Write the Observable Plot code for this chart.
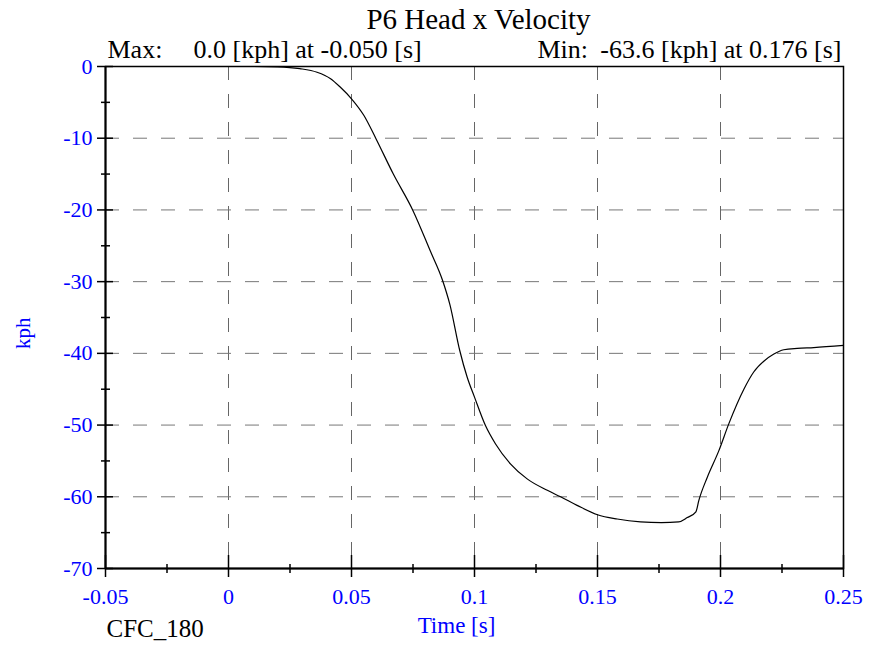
<!DOCTYPE html>
<html>
<head>
<meta charset="utf-8">
<script src="https://cdn.jsdelivr.net/npm/d3@7"></script>
<script src="https://cdn.jsdelivr.net/npm/@observablehq/plot@0.6"></script>
<style>
  html, body { margin: 0; padding: 0; background: white; }
  #chart svg, #chart svg text { font-family: "Liberation Serif", "Times New Roman", serif !important; }
</style>
</head>
<body>
<div id="chart"></div>
<script>
const titleText = "P6 Head x Velocity";
const maxLabel = "Max:";
const maxValue = "0.0 [kph] at -0.050 [s]";
const minLabel = "Min:";
const minValue = "-63.6 [kph] at 0.176 [s]";
const xLabel = "Time [s]";
const yLabel = "kph";
const filterLabel = "CFC_180";

const xTicks = [-0.05, 0, 0.05, 0.1, 0.15, 0.2, 0.25];
const xMinor = [-0.025, 0.025, 0.075, 0.125, 0.175, 0.225];
const xGrid = [0, 0.05, 0.1, 0.15, 0.2];
const yTicks = [0, -10, -20, -30, -40, -50, -60, -70];
const yMinor = [-5, -15, -25, -35, -45, -55, -65];
const yGrid = [-10, -20, -30, -40, -50, -60];

const time = [-0.05, 0.0, 0.01, 0.02, 0.029, 0.036, 0.0415, 0.0455, 0.05, 0.055, 0.060, 0.067, 0.075, 0.082, 0.087, 0.090, 0.094, 0.097, 0.100, 0.1045, 0.1085, 0.1146, 0.1214, 0.1296, 0.135, 0.1417, 0.150, 0.158, 0.1675, 0.176, 0.183, 0.1865, 0.190, 0.1912, 0.1946, 0.1993, 0.2034, 0.2095, 0.2135, 0.2176, 0.2217, 0.2257, 0.2312, 0.2379, 0.25];
const velocity = [0, 0, 0, -0.05, -0.3, -0.8, -1.7, -2.9, -4.5, -6.8, -10.1, -15, -20.1, -25.7, -29.8, -33.2, -39.6, -43.3, -46.1, -50.1, -52.6, -55.4, -57.5, -59.1, -60.0, -61.2, -62.5, -63.1, -63.5, -63.6, -63.5, -62.9, -62.1, -60.5, -57.3, -53.6, -49.8, -45.0, -42.6, -41.1, -40.1, -39.5, -39.3, -39.2, -38.9];

const data = time.map((t, i) => ({t, v: velocity[i]}));
const blue = "#0000ff";
const serif = "Liberation Serif";
const fmt = d => String(d);

const chart = Plot.plot({
  width: 882,
  height: 647,
  marginLeft: 105,
  marginRight: 39,
  marginTop: 66,
  marginBottom: 79,
  x: {domain: [-0.05, 0.25], axis: null},
  y: {domain: [-70, 0], axis: null},
  style: {fontFamily: serif, background: "white", color: "black"},
  marks: [
    Plot.gridX(xGrid, {stroke: "#666", strokeOpacity: 1, strokeDasharray: "14,14"}),
    Plot.gridY(yGrid, {stroke: "#777", strokeOpacity: 1, strokeDasharray: "14,14"}),
    Plot.line(data, {x: "t", y: "v", stroke: "black", strokeWidth: 1.2, curve: "monotone-x"}),
    Plot.frame({stroke: "black", strokeWidth: 1.5}),
    Plot.ruleX([-0.05], {stroke: "black", strokeWidth: 2}),
    Plot.ruleY([-70], {stroke: "black", strokeWidth: 2}),
    Plot.axisY(yTicks, {anchor: "left", tickSize: 16, dx: 8, fill: "none", stroke: "black", strokeWidth: 1.5, label: null}),
    Plot.axisY(yMinor, {anchor: "left", tickSize: 9, dx: 5, fill: "none", stroke: "black", strokeWidth: 1.5, label: null}),
    Plot.axisY(yTicks, {anchor: "left", tickSize: 0, tickPadding: 13, fill: blue, fontSize: 22, fontFamily: serif, tickFormat: fmt, label: null}),
    Plot.axisX(xTicks, {anchor: "bottom", tickSize: 22, dy: -13, fill: "none", stroke: "black", strokeWidth: 1.5, label: null}),
    Plot.axisX(xMinor, {anchor: "bottom", tickSize: 9, dy: -4, fill: "none", stroke: "black", strokeWidth: 1.5, label: null}),
    Plot.axisX(xTicks, {anchor: "bottom", tickSize: 0, tickPadding: 20, fill: blue, fontSize: 22, fontFamily: serif, tickFormat: fmt, label: null}),
    Plot.text([titleText], {text: d => d, frameAnchor: "top", dx: 4, dy: -38, lineAnchor: "bottom", fontSize: 29, fontFamily: serif, fill: "black"}),
    Plot.text([maxLabel], {text: d => d, frameAnchor: "top-left", textAnchor: "start", dx: 2, dy: -9, lineAnchor: "bottom", fontSize: 26, fontFamily: serif, fill: "black"}),
    Plot.text([maxValue], {text: d => d, frameAnchor: "top-left", textAnchor: "start", dx: 88, dy: -9, lineAnchor: "bottom", fontSize: 26, fontFamily: serif, fill: "black"}),
    Plot.text([minLabel], {text: d => d, frameAnchor: "top-left", textAnchor: "start", dx: 432, dy: -9, lineAnchor: "bottom", fontSize: 26, fontFamily: serif, fill: "black"}),
    Plot.text([minValue], {text: d => d, frameAnchor: "top-right", textAnchor: "end", dx: -2, dy: -9, lineAnchor: "bottom", fontSize: 26, fontFamily: serif, fill: "black"}),
    Plot.text([yLabel], {text: d => d, frameAnchor: "left", dx: -82, textAnchor: "end", rotate: -90, fontSize: 21, fontFamily: serif, fill: blue}),
    Plot.text([xLabel], {text: d => d, frameAnchor: "bottom", dx: -18, dy: 64, lineAnchor: "bottom", fontSize: 23, fontFamily: serif, fill: blue}),
    Plot.text([filterLabel], {text: d => d, frameAnchor: "bottom-left", textAnchor: "start", dx: 1, dy: 68, lineAnchor: "bottom", fontSize: 25, fontFamily: serif, fill: "black"})
  ]
});

document.getElementById("chart").appendChild(chart);
</script>
</body>
</html>
